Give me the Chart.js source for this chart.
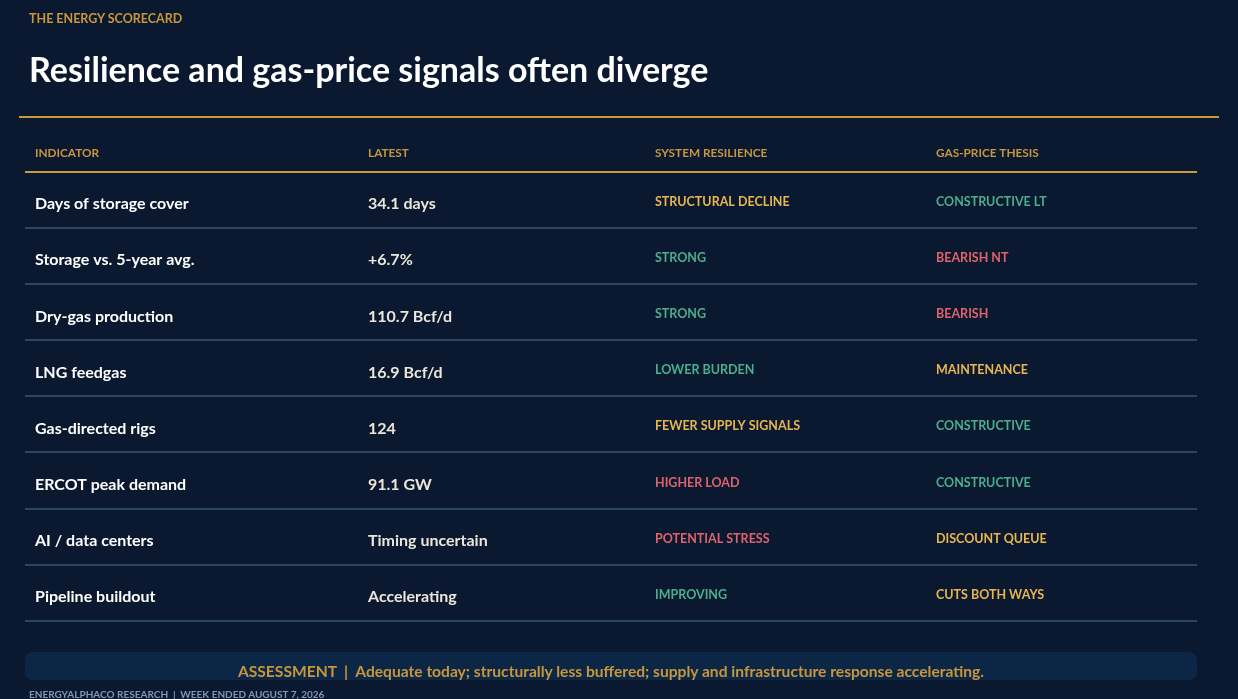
<!DOCTYPE html>
<html lang="en">
<head>
  <meta charset="UTF-8" />
  <title>The Energy Scorecard</title>
  <script src="https://cdn.jsdelivr.net/npm/chart.js"></script>
  <style>
    html, body { margin: 0; padding: 0; width: 1238px; height: 699px; overflow: hidden; background: #0a1930; font-family: Lato, "Open Sans", sans-serif; }
    .txt { position: absolute; line-height: 1; white-space: nowrap; font-weight: 700; }
    .kicker { left: 29px; top: 13px; font-size: 12.5px; color: #c8963c; }
    .title { left: 29px; top: 52px; font-size: 34px; color: #ffffff; }
    .rule { position: absolute; left: 19px; top: 116px; width: 1200px; height: 2px; background: #c9993f; }
    #wrap { position: absolute; left: 0; top: 0; width: 1238px; height: 699px; }
    .assess { position: absolute; left: 25px; top: 652px; width: 1172px; height: 28px; background: #0c2646; border-radius: 8px; }
    .assess .txt { left: 0; width: 1172px; top: 12px; text-align: center; font-size: 15.6px; color: #c8963c; }
    .foot { left: 29px; top: 689px; font-size: 10px; color: #8796ab; }
  </style>
</head>
<body>
  <div id="wrap"><canvas id="scorecard"></canvas></div>
  <div class="txt kicker">THE ENERGY SCORECARD</div>
  <div class="txt title">Resilience and gas-price signals often diverge</div>
  <div class="rule"></div>
  <div class="assess"><div class="txt">ASSESSMENT &nbsp;|&nbsp; Adequate today; structurally less buffered; supply and infrastructure response accelerating.</div></div>
  <div class="txt foot">ENERGYALPHACO RESEARCH &nbsp;|&nbsp; WEEK ENDED AUGUST 7, 2026</div>

<script>
  // dados da tabela
  var columns = ['INDICATOR', 'LATEST', 'SYSTEM RESILIENCE', 'GAS-PRICE THESIS'];
  var indicators = ['Days of storage cover', 'Storage vs. 5-year avg.', 'Dry-gas production', 'LNG feedgas',
                    'Gas-directed rigs', 'ERCOT peak demand', 'AI / data centers', 'Pipeline buildout'];
  var latest = ['34.1 days', '+6.7%', '110.7 Bcf/d', '16.9 Bcf/d', '124', '91.1 GW', 'Timing uncertain', 'Accelerating'];
  var resilience = ['STRUCTURAL DECLINE', 'STRONG', 'STRONG', 'LOWER BURDEN', 'FEWER SUPPLY SIGNALS',
                    'HIGHER LOAD', 'POTENTIAL STRESS', 'IMPROVING'];
  var resilienceTone = ['warn', 'good', 'good', 'good', 'warn', 'bad', 'bad', 'good'];
  var thesis = ['CONSTRUCTIVE LT', 'BEARISH NT', 'BEARISH', 'MAINTENANCE', 'CONSTRUCTIVE',
                'CONSTRUCTIVE', 'DISCOUNT QUEUE', 'CUTS BOTH WAYS'];
  var thesisTone = ['good', 'bad', 'bad', 'warn', 'good', 'good', 'warn', 'warn'];

  // layout
  var toneColor = { good: '#4cae8c', bad: '#e0626c', warn: '#e8b650' };
  var colLeft = [10, 343, 630, 911];      // inicio de cada coluna (unidades do eixo x)
  var headerRow = -0.34;
  var FONT = 'Lato, "Open Sans", sans-serif';

  function cells(col, texts) {
    return texts.map(function (t, i) { return { x: colLeft[col], y: i + 0.5 }; });
  }

  var datasets = [
    { label: 'header', data: columns.map(function (c, j) { return { x: colLeft[j], y: headerRow }; }),
      texts: columns, colors: columns.map(function () { return '#c8963c'; }), font: '700 11.8px ' + FONT, dy: 4.5 },
    { label: 'indicator', data: cells(0, indicators), texts: indicators,
      colors: indicators.map(function () { return '#ffffff'; }), font: '700 16px ' + FONT, dy: 9.3 },
    { label: 'latest', data: cells(1, latest), texts: latest,
      colors: latest.map(function () { return '#ece6da'; }), font: '700 16px ' + FONT, dy: 9.3 },
    { label: 'resilience', data: cells(2, resilience), texts: resilience,
      colors: resilienceTone.map(function (t) { return toneColor[t]; }), font: '700 12.5px ' + FONT, dy: 6 },
    { label: 'thesis', data: cells(3, thesis), texts: thesis,
      colors: thesisTone.map(function (t) { return toneColor[t]; }), font: '700 12.5px ' + FONT, dy: 6 }
  ];
  datasets.forEach(function (d) { d.pointRadius = 0; d.pointHoverRadius = 0; });

  // desenha o texto de cada celula na posicao do ponto
  var cellText = {
    id: 'cellText',
    afterDatasetsDraw: function (chart) {
      var ctx = chart.ctx;
      ctx.save();
      ctx.textAlign = 'left';
      ctx.textBaseline = 'alphabetic';
      chart.data.datasets.forEach(function (ds, d) {
        var meta = chart.getDatasetMeta(d);
        ctx.font = ds.font;
        meta.data.forEach(function (pt, i) {
          ctx.fillStyle = ds.colors[i];
          ctx.fillText(ds.texts[i], pt.x, pt.y + ds.dy);
        });
      });
      ctx.restore();
    }
  };

  var ctxTable = document.getElementById('scorecard').getContext('2d');
  var configTable = {
    type: 'scatter',
    data: { datasets: datasets },
    options: {
      responsive: true,
      maintainAspectRatio: false,
      animation: false,
      events: [],
      layout: { padding: { left: 25, right: 41, top: 132.7, bottom: 78.2 } },
      plugins: { legend: { display: false }, tooltip: { enabled: false } },
      scales: {
        x: { type: 'linear', min: 0, max: 1172, display: false },
        y: {
          type: 'linear', reverse: true, min: -0.7, max: 8,
          afterBuildTicks: function (scale) {
            scale.ticks = [0, 1, 2, 3, 4, 5, 6, 7, 8].map(function (v) { return { value: v }; });
          },
          afterFit: function (scale) { scale.width = 0; },
          ticks: { display: false },
          border: { display: false },
          grid: {
            drawTicks: false,
            lineWidth: 2,
            color: function (c) { return c.tick && c.tick.value === 0 ? '#c9993f' : '#2b4563'; }
          }
        }
      }
    },
    plugins: [cellText]
  };
  var tableChart = new Chart(ctxTable, configTable);
</script>
</body>
</html>
